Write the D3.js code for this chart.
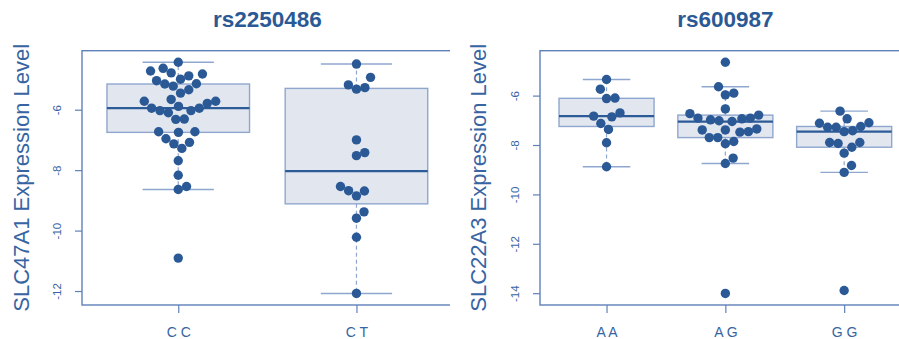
<!DOCTYPE html>
<html>
<head>
<meta charset="utf-8">
<script src="https://cdn.jsdelivr.net/npm/d3@7"></script>
<style>
  html, body { margin: 0; padding: 0; background: #ffffff; }
  svg { display: block; }
  text { font-family: "Liberation Sans", Arial, Helvetica, sans-serif; }
</style>
</head>
<body>
<svg id="chart" width="899" height="339"></svg>
<script>
// ---- data: expression level per genotype ----
const snp1Title = "rs2250486";
const snp1Gene = "SLC47A1 Expression Level";
const snp1Groups = ["C C", "C T"];
const snp1CC = [-4.43, -4.63, -4.82, -4.78, -4.88, -4.72, -5.15, -5.22, -5.34, -5.14, -5.04, -4.99,
  -5.45, -5.72, -5.66, -5.72, -5.79, -5.95, -6.03, -6.10, -5.89, -6.03, -5.95, -6.32, -6.31,
  -6.73, -6.75, -6.73, -6.96, -7.13, -7.28, -7.08, -7.69, -8.17, -8.64, -8.54, -10.91];
const snp1CT = [-4.49, -4.93, -5.18, -5.32, -5.27, -7.00, -7.52, -7.42, -8.54, -8.68, -8.85,
  -8.69, -9.38, -9.59, -10.22, -12.08];
const snp1Ticks = [-6, -8, -10, -12];

const snp2Title = "rs600987";
const snp2Gene = "SLC22A3 Expression Level";
const snp2Groups = ["A A", "A G", "G G"];
const snp2AA = [-5.35, -5.74, -6.12, -6.10, -6.83, -6.86, -6.70, -7.13, -7.37, -7.91, -8.88];
const snp2AG = [-4.65, -5.64, -5.97, -5.90, -6.54, -6.73, -6.91, -6.98, -7.05, -7.02, -6.94, -6.91,
  -6.79, -7.39, -7.39, -7.48, -7.46, -7.35, -7.70, -7.70, -7.95, -7.86, -8.53, -8.75, -14.01];
const snp2GG = [-6.63, -6.94, -7.12, -7.28, -7.28, -7.46, -7.42, -7.25, -7.10, -7.90, -7.94, -7.90,
  -8.09, -8.33, -8.83, -9.11, -13.89];
const snp2Ticks = [-6, -8, -10, -12, -14];

// ---- style ----
const C = {
  title: "#2b5995",
  text: "#3764a2",
  frame: "#5f81b9",
  boxFill: "#e1e6ef",
  boxStroke: "#8fa7ce",
  median: "#2c5b97",
  dot: "#2b5996"
};

const svg = d3.select("#chart");

// Tukey five-number summary (same as R's fivenum)
function fivenum(arr) {
  const x = arr.slice().sort((a, b) => a - b);
  const n = x.length;
  const n4 = Math.floor((n + 3) / 2) / 2;
  const d = [1, n4, (n + 1) / 2, n + 1 - n4, n];
  return d.map(k => 0.5 * (x[Math.floor(k) - 1] + x[Math.ceil(k) - 1]));
}

function boxStats(arr) {
  const [mn, lo, med, hi, mx] = fivenum(arr);
  const iqr = hi - lo;
  const inside = arr.filter(v => v >= lo - 1.5 * iqr && v <= hi + 1.5 * iqr);
  return { lo, med, hi, wLo: d3.min(inside), wHi: d3.max(inside) };
}

// swarm layout: points placed in ascending order, each as close to the
// centre line as possible without overlapping those already placed
function swarm(values, unitY, ax, ay) {
  const pts = values.map((v, i) => ({ v, i, u: v * unitY / ay, w: 0 }));
  const order = pts.slice().sort((a, b) => a.u - b.u || a.i - b.i);
  const placed = [];
  order.forEach((p, k) => {
    if (k === 0) { p.w = 0; placed.push(p); return; }
    let pre = placed.filter(q => p.u - q.u < 1);
    if (pre.length) {
      pre = pre.slice().sort((a, b) => Math.abs(a.w) - Math.abs(b.w));
      const offs = pre.map(q => Math.sqrt(Math.max(0, 1 - (p.u - q.u) ** 2)));
      const cand = [0].concat(pre.map((q, j) => q.w + offs[j]), pre.map((q, j) => q.w - offs[j]));
      let best = Infinity, bestAbs = Infinity;
      cand.forEach(c => {
        const bad = pre.some(q => (p.u - q.u) ** 2 + (c - q.w) ** 2 < 0.999);
        if (!bad && Math.abs(c) < bestAbs) { bestAbs = Math.abs(c); best = c; }
      });
      p.w = best;
    } else p.w = 0;
    placed.push(p);
  });
  return pts;
}

function drawPanel(cfg) {
  const { clipX0, clipX1, left, top, width, bottom, title, gene, groups, series, ticks,
          tickLabelX, geneX } = cfg;
  const n = groups.length;
  const all = series.flat();
  const [vmin, vmax] = d3.extent(all);
  const pad = 0.05 * (vmax - vmin);

  const x = d3.scaleLinear()
    .domain([0.5 - 0.02 * n, n + 0.5 + 0.02 * n])
    .range([left, left + width]);
  const y = d3.scaleLinear()
    .domain([vmin - pad, vmax + pad])
    .range([bottom, top]);

  const clipId = "clip" + Math.round(clipX0);
  svg.append("clipPath").attr("id", clipId)
    .append("rect").attr("x", clipX0).attr("y", 0)
    .attr("width", clipX1 - clipX0).attr("height", 339);

  const g = svg.append("g").attr("clip-path", `url(#${clipId})`);

  // title
  g.append("text")
    .attr("x", (x.range()[0] + x.range()[1]) / 2)
    .attr("y", 27)
    .attr("text-anchor", "middle")
    .attr("font-size", 22.5)
    .attr("font-weight", "bold")
    .attr("fill", C.title)
    .text(title);

  // y-axis title
  g.append("text")
    .attr("transform", `translate(${geneX},${(top + bottom) / 2}) rotate(-90)`)
    .attr("text-anchor", "middle")
    .attr("font-size", 22)
    .attr("fill", C.text)
    .text(gene);

  // boxes, whiskers and medians
  const bw = 0.4, cw = 0.2;
  series.forEach((vals, k) => {
    const s = boxStats(vals);
    const cx = k + 1;
    const bg = g.append("g");
    bg.append("rect")
      .attr("x", x(cx - bw)).attr("y", y(s.hi))
      .attr("width", x(cx + bw) - x(cx - bw))
      .attr("height", y(s.lo) - y(s.hi))
      .attr("fill", C.boxFill)
      .attr("stroke", C.boxStroke)
      .attr("stroke-width", 1.4);
    [[s.hi, s.wHi], [s.lo, s.wLo]].forEach(([a, b]) => {
      bg.append("line")
        .attr("x1", x(cx)).attr("x2", x(cx))
        .attr("y1", y(a)).attr("y2", y(b))
        .attr("stroke", C.boxStroke).attr("stroke-width", 1.2)
        .attr("stroke-dasharray", "4,3");
      bg.append("line")
        .attr("x1", x(cx - cw)).attr("x2", x(cx + cw))
        .attr("y1", y(b)).attr("y2", y(b))
        .attr("stroke", C.boxStroke).attr("stroke-width", 1.4);
    });
    bg.append("line")
      .attr("x1", x(cx - bw)).attr("x2", x(cx + bw))
      .attr("y1", y(s.med)).attr("y2", y(s.med))
      .attr("stroke", C.median).attr("stroke-width", 2.2);
  });

  // frame
  g.append("rect")
    .attr("x", left).attr("y", top)
    .attr("width", width).attr("height", bottom - top)
    .attr("fill", "none").attr("stroke", C.frame).attr("stroke-width", 1.4);

  // y axis
  const yAxis = d3.axisLeft(y).tickValues(ticks).tickSize(7).tickPadding(0).tickFormat(d3.format("d"));
  const ya = g.append("g").attr("transform", `translate(${left},0)`).call(yAxis);
  ya.select(".domain").remove();
  ya.selectAll(".tick line").attr("stroke", C.frame).attr("stroke-width", 1.2);
  ya.selectAll(".tick text")
    .attr("x", null).attr("dy", null)
    .attr("transform", `translate(${tickLabelX - left},0) rotate(-90)`)
    .attr("text-anchor", "middle")
    .attr("font-size", 11.5)
    .attr("font-family", "Liberation Sans, Arial, sans-serif")
    .attr("fill", C.text)
    .text(d => d3.format("d")(d).replace("\u2212", "-"));

  // x axis
  const xAxis = d3.axisBottom(x).tickValues(d3.range(1, n + 1)).tickSize(8).tickPadding(0)
    .tickFormat(i => groups[i - 1]);
  const xa = g.append("g").attr("transform", `translate(0,${bottom})`).call(xAxis);
  xa.select(".domain").remove();
  xa.selectAll(".tick line").attr("stroke", C.frame).attr("stroke-width", 1.2);
  xa.selectAll(".tick text")
    .attr("y", 31.5).attr("dy", null)
    .attr("font-size", 14)
    .attr("font-family", "Liberation Sans, Arial, sans-serif")
    .attr("fill", C.text);

  // beeswarm points
  const unitY = Math.abs(y(0) - y(1));
  series.forEach((vals, k) => {
    const pts = swarm(vals, unitY, 8.5, 13.7);
    g.append("g").selectAll("circle")
      .data(pts)
      .join("circle")
      .attr("cx", d => x(k + 1) + d.w * 8.5)
      .attr("cy", d => y(d.v))
      .attr("r", 4.7)
      .attr("fill", C.dot);
  });
}

drawPanel({
  clipX0: 0, clipX1: 450,
  left: 82, top: 50.7, width: 370.7, bottom: 305,
  title: snp1Title, gene: snp1Gene, groups: snp1Groups,
  series: [snp1CC, snp1CT], ticks: snp1Ticks,
  tickLabelX: 60.5, geneX: 29
});

drawPanel({
  clipX0: 450, clipX1: 899,
  left: 540, top: 50.7, width: 370.7, bottom: 305,
  title: snp2Title, gene: snp2Gene, groups: snp2Groups,
  series: [snp2AA, snp2AG, snp2GG], ticks: snp2Ticks,
  tickLabelX: 519, geneX: 486
});
</script>
</body>
</html>
